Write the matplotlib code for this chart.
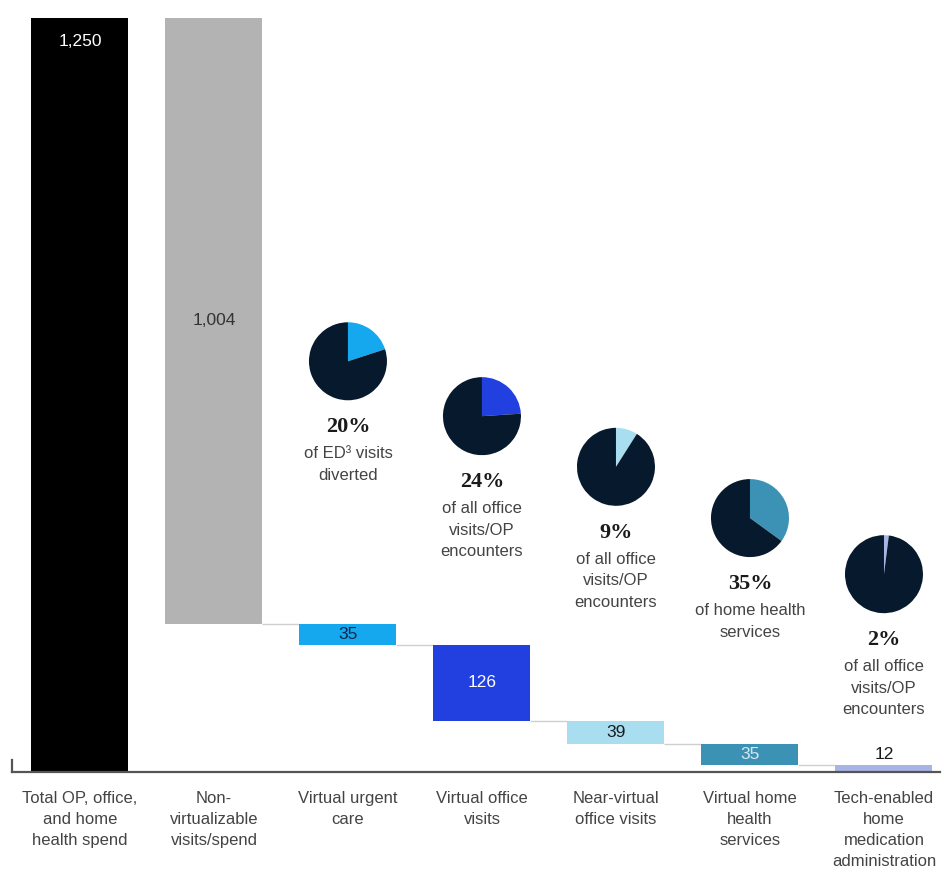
import numpy as np
import matplotlib.pyplot as plt

# data
categories = ["Total OP, office,\nand home\nhealth spend",
              "Non-\nvirtualizable\nvisits/spend",
              "Virtual urgent\ncare",
              "Virtual office\nvisits",
              "Near-virtual\noffice visits",
              "Virtual home\nhealth\nservices",
              "Tech-enabled\nhome\nmedication\nadministration"]
values = [1250, 1004, 35, 126, 39, 35, 12]
value_labels = ["1,250", "1,004", "35", "126", "39", "35", "12"]

pie_shares = [20, 24, 9, 35, 2]
pie_pct = ["20%", "24%", "9%", "35%", "2%"]
pie_notes = ["of ED\u00b3 visits\ndiverted",
             "of all office\nvisits/OP\nencounters",
             "of all office\nvisits/OP\nencounters",
             "of home health\nservices",
             "of all office\nvisits/OP\nencounters"]

# styling / layout
bar_colors = ["#000000", "#b3b3b3", "#16a8ee", "#2140df", "#a9def0", "#3c92b4", "#a9b4e6"]
label_colors = ["white", "#333333", "#0b2a4a", "white", "#1a1a1a", "#d8e6ee", "#1a1a1a"]
pie_dark = "#07192c"
pie_y = [681, 590, 506, 421, 328]   # pie centre heights (layout only)
pie_r_px = 39
W, H = 945, 873
bar_w = 0.724
sans = "Liberation Sans"

fig = plt.figure(figsize=(W / 100, H / 100), dpi=100)
ax = fig.add_axes([12 / W, (H - 772) / H, 928 / W, 772 / H])
ax.set_xlim(-0.507, 6.418)
ax.set_ylim(0, 1280)

# waterfall bottoms
bottoms = [0, values[0] - values[1]]
level = bottoms[1]
for v in values[2:]:
    level -= v
    bottoms.append(level)
x = np.arange(len(values))
ax.bar(x, values, bottom=bottoms, width=bar_w, color=bar_colors, zorder=2)

# connector lines
for i in range(1, len(values) - 1):
    ax.hlines(bottoms[i], i + bar_w / 2, i + 1 - bar_w / 2, color="#cfcfcf", lw=1, zorder=1)

# value labels
for i, (v, b, lab) in enumerate(zip(values, bottoms, value_labels)):
    if i == 0:
        ax.annotate(lab, (i, b + v), xytext=(0, -17), textcoords="offset points",
                    ha="center", va="center", color=label_colors[i], fontsize=12.5, family=sans)
    elif i == len(values) - 1:
        ax.annotate(lab, (i, b + v), xytext=(0, 8), textcoords="offset points",
                    ha="center", va="center", color=label_colors[i], fontsize=12.5, family=sans)
    else:
        ax.text(i, b + v / 2, lab, ha="center", va="center", color=label_colors[i],
                fontsize=12.5, family=sans, zorder=3)

# pies with their captions
fig.canvas.draw()
for k, share in enumerate(pie_shares):
    i = k + 2
    cx, cy = ax.transData.transform((i, pie_y[k]))
    pax = fig.add_axes([(cx - pie_r_px) / W, (cy - pie_r_px) / H, 2 * pie_r_px / W, 2 * pie_r_px / H])
    pax.pie([share, 100 - share], colors=[bar_colors[i], pie_dark], startangle=90,
            counterclock=False, wedgeprops=dict(linewidth=0))
    pax.set_xlim(-1, 1)
    pax.set_ylim(-1, 1)
    pax.set_aspect("equal")
    ax.annotate(pie_pct[k], (i, pie_y[k]), xytext=(0, -66 * 0.72), textcoords="offset points",
                ha="center", va="center", fontsize=16, fontweight="bold",
                family="Liberation Serif", color="#1a1a1a")
    ax.annotate(pie_notes[k], (i, pie_y[k]), xytext=(0, -85 * 0.72), textcoords="offset points",
                ha="center", va="top", fontsize=12, family=sans, color="#444444",
                linespacing=1.55)

# axes styling
for s in ["top", "right", "left"]:
    ax.spines[s].set_visible(False)
ax.spines["bottom"].set_color("#555555")
ax.spines["bottom"].set_linewidth(1.6)
ax.axvline(-0.507, 0, 0.016, color="#555555", lw=1.6, clip_on=False)
ax.set_yticks([])
ax.set_xticks(x)
ax.set_xticklabels(categories, fontsize=12, family=sans, color="#444444", linespacing=1.5, va="top")
ax.tick_params(axis="x", length=0, pad=14)

fig.savefig("out.png", dpi=100)
